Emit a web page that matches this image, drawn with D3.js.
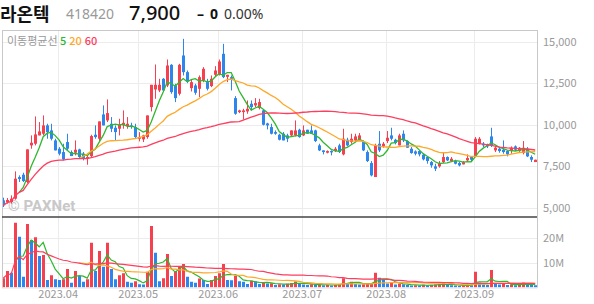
<!DOCTYPE html>
<html>
<head>
<meta charset="utf-8">
<script src="https://cdn.jsdelivr.net/npm/d3@7"></script>
<style>
  html, body { margin: 0; padding: 0; background: #fff; }
  svg { display: block; font-family: "Noto Sans CJK KR", "Noto Sans", sans-serif; }
</style>
</head>
<body>
<div id="chart"></div>
<script>
// ---- data ----
const stockName = "라온텍";
const stockCode = "418420";
const lastPrice = 7900;
const change = 0;
const changePct = "0.00%";

const open = [5460,5360,5360,5560,6860,7000,6560,8760,8860,9360,9460,9960,9660,9060,8560,8360,8960,8360,8320,8520,
  8260,7960,8120,9400,9160,10620,10260,10060,9820,9760,9960,9920,9960,9860,9160,9120,9260,11060,12120,12060,
  12760,12360,13600,12360,11860,14160,13160,12200,12360,12160,12660,12560,12320,13000,13000,14260,12880,12860,11600,10760,
  10760,10800,11260,11160,11000,10860,10080,9860,9560,9400,9460,9360,9360,9360,9700,9360,9700,9660,9660,8760,
  8460,8320,8420,8420,8760,8220,9100,8960,9060,9060,8960,8360,7700,6860,8860,8700,9020,9360,9100,8760,
  9460,9020,8560,8400,8420,8200,8060,7760,7500,7500,7760,8060,7820,7820,7700,7620,7860,8060,8100,8860,
  8860,8820,9300,8460,8560,8500,8420,8420,8700,8420,8300,8560,8060,7760];
const high = [5620,5600,5760,7200,6960,7120,8520,9360,10500,10160,10560,10060,10060,9160,8660,8860,9460,8460,9060,8560,
  8360,8160,9400,9960,10200,11160,11520,10460,9960,10360,10860,10460,10120,10060,9560,9400,10560,12400,13620,12760,
  12800,13920,13640,12460,13660,15160,13260,12720,12460,12960,13460,12760,12960,13520,13920,14860,13000,12960,11720,10900,
  10960,11460,11460,11600,11560,10920,10120,10060,9660,9460,9560,9460,9660,10260,9760,9960,9700,9960,9700,8860,
  8460,8460,8460,8660,8860,9760,9220,9460,9460,9500,9060,8460,7820,8860,9620,8960,9620,9820,9160,9460,
  9660,9060,8660,8460,8460,8260,8100,7820,7660,7820,8360,8100,8060,7900,7760,7820,8220,8120,9260,9260,
  8960,8860,9820,8760,8660,9060,8460,8700,8760,8660,9020,8660,8160,7900];
const low = [5060,5260,5260,5500,6560,6560,6500,8560,8760,9360,9360,9160,9060,8460,8160,7860,8460,8120,8160,7960,
  7860,7600,8060,9160,8960,9960,10160,9560,9060,9360,9760,9760,9760,9160,9000,8960,9160,10800,11560,11960,
  12000,12260,11860,11360,11760,12960,12500,12000,11800,11660,12560,12060,12260,12860,12960,12800,12560,12060,10600,10700,
  10320,10660,10860,11060,10920,9960,9720,9420,9400,9060,9060,8960,9260,9300,9220,9320,9460,9460,8960,8420,
  8220,8280,8160,8360,8300,8160,8700,8860,8960,9060,8420,7760,6900,6860,8360,8620,8900,9060,8820,8760,
  8960,8620,8260,8160,8100,7860,7660,7420,7220,7420,7700,7820,7760,7620,7500,7620,7820,7820,8060,8820,
  8660,8600,8660,8360,8320,8260,8100,8260,8420,8360,8220,8060,7760,7760];
const close = [5160,5480,5560,6760,6740,6620,8520,8920,9420,9600,9960,9560,9160,8460,8260,7920,8560,8120,8500,8060,
  7960,8060,9320,9260,10200,9960,10700,9760,9560,10000,10120,10060,9860,9260,9260,9360,10560,12400,12400,12400,
  12060,13560,11960,11600,13600,13160,12600,12560,11920,12860,13360,12160,12760,13260,13800,12860,13000,12760,10660,10860,
  10860,10960,11060,11300,11360,10000,9960,9460,9460,9100,9060,9160,9660,9660,9260,9660,9460,9460,9020,8460,
  8360,8420,8340,8560,8360,9160,8760,9160,9300,9360,8460,7820,6960,8760,8460,8860,9220,9160,8900,9360,
  9060,8620,8300,8260,8220,7920,7820,7560,7360,7700,8060,7860,7960,7660,7560,7760,8000,7900,9160,9160,
  8760,8700,8760,8620,8420,8360,8220,8620,8500,8620,8620,8100,7900,7900];
// volume in millions of shares
const volume = [3.7,6.6,5.9,25.9,20.3,4.3,25.4,19.0,20.1,12.6,13.0,3.0,4.9,3.3,3.0,3.3,7.4,1.9,6.6,4.6,
  2.3,3.3,17.9,6.6,14.6,8.3,17.9,7.4,3.3,4.9,5.7,2.3,1.9,2.5,1.3,1.2,6.3,24.6,13.9,2.5,
  3.7,13.4,4.6,6.6,8.3,9.4,4.3,2.3,1.9,3.6,3.0,1.4,3.0,4.6,5.7,9.4,3.0,2.9,4.6,2.5,
  2.3,1.4,2.7,2.5,1.4,1.9,1.6,1.7,1.0,1.3,1.2,1.5,1.8,2.4,1.5,1.2,1.0,1.3,1.1,1.2,
  0.9,1.0,0.8,1.1,1.3,3.7,1.5,2.3,1.4,1.2,1.3,1.6,1.8,5.9,3.9,3.0,1.6,1.9,1.2,1.5,
  1.3,1.0,0.8,0.9,0.8,1.1,0.9,1.0,1.2,1.4,1.7,1.0,0.9,0.8,0.7,0.9,1.1,0.9,6.3,1.9,
  1.2,1.0,7.0,1.6,1.2,1.4,1.0,1.2,0.9,1.1,2.0,1.3,1.0,0.9];

const monthLabels = ["2023.04","2023.05","2023.06","2023.07","2023.08","2023.09"];
const monthStart = [14, 34, 54, 75, 96, 118];   // index of first trading day
const priceTicks = [5000, 7500, 10000, 12500, 15000];
const volTicks = [10, 20];
const maPeriods = [5, 20, 60];
const maColors = ["#2eb82e", "#ffa726", "#ff3d5e"];

// moving average; the 60 line is an expanding mean until enough days exist
function movingAvg(arr, n, minCount) {
  return arr.map((d, i) => {
    const cnt = Math.min(n, i + 1);
    if (cnt < Math.min(n, minCount)) return null;
    return d3.mean(arr.slice(i + 1 - cnt, i + 1));
  });
}

const W = 594, H = 304;
const left = 2, right = 537;
const priceTop = 30, sepY = 217, volBottom = 287.5;
const red = "#f5404f", blue = "#2d86ee";

const svg = d3.select("#chart").append("svg").attr("width", W).attr("height", H);

// header
const hdr = svg.append("g");
hdr.append("text").attr("x", 0).attr("y", 21).text(stockName)
  .attr("font-size", 18).attr("font-weight", 700).attr("fill", "#111");
hdr.append("text").attr("x", 66).attr("y", 19).text(stockCode)
  .attr("font-size", 14).attr("fill", "#999").attr("font-family", "'Noto Sans', sans-serif");
hdr.append("text").attr("x", 129).attr("y", 20).text(d3.format(",")(lastPrice))
  .attr("font-size", 20).attr("font-weight", 500).attr("fill", "#111").attr("font-family", "'Noto Sans', sans-serif");
hdr.append("text").attr("x", 197).attr("y", 19).text("–")
  .attr("font-size", 14).attr("font-weight", 700).attr("fill", "#111").attr("font-family", "'Noto Sans', sans-serif");
hdr.append("text").attr("x", 210).attr("y", 19).text(change)
  .attr("font-size", 14).attr("font-weight", 700).attr("fill", "#111").attr("font-family", "'Noto Sans', sans-serif");
hdr.append("text").attr("x", 224).attr("y", 19).text(changePct)
  .attr("font-size", 14).attr("fill", "#333").attr("font-family", "'Noto Sans', sans-serif");

const x = d3.scaleLinear().domain([0, close.length - 1]).range([3.2, 535.2]);
const y = d3.scaleLinear().domain([5000, 15000]).range([208, 41.5]);
const yv = d3.scaleLinear().domain([0, 20]).range([volBottom, 237.5]);

svg.append("defs").append("clipPath").attr("id", "clipP")
  .append("rect").attr("x", left).attr("y", priceTop).attr("width", right - left).attr("height", sepY - priceTop);
svg.select("defs").append("clipPath").attr("id", "clipV")
  .append("rect").attr("x", left).attr("y", sepY).attr("width", right - left).attr("height", volBottom - sepY);

// grid
const grid = svg.append("g").attr("stroke", "#ececec").attr("stroke-width", 1);
grid.selectAll(".hp").data(priceTicks).join("line")
  .attr("x1", left).attr("x2", right)
  .attr("y1", d => Math.round(y(d)) + 0.5).attr("y2", d => Math.round(y(d)) + 0.5);
grid.selectAll(".hv").data(volTicks).join("line")
  .attr("x1", left).attr("x2", right)
  .attr("y1", d => Math.round(yv(d)) + 0.5).attr("y2", d => Math.round(yv(d)) + 0.5);
grid.selectAll(".vx").data(monthStart).join("line")
  .attr("x1", d => Math.round(x(d) - 1) + 0.5).attr("x2", d => Math.round(x(d) - 1) + 0.5)
  .attr("y1", priceTop).attr("y2", volBottom);

// watermark
svg.append("text").attr("x", 8).attr("y", 211).text("© PAXNet")
  .attr("font-size", 15).attr("font-weight", 700).attr("fill", "#c8c8c8").attr("font-family", "Roboto, sans-serif");

// legend
svg.append("text").attr("x", 7).attr("y", 45).text("이동평균선").attr("font-size", 11).attr("fill", "#999");
const leg = svg.append("text").attr("x", 60).attr("y", 45).attr("font-size", 11).attr("font-weight", 500);
maPeriods.forEach((p, i) => leg.append("tspan").attr("dx", i ? 3 : 0).attr("fill", maColors[i]).text(p));

// candles
const cg = svg.append("g").attr("clip-path", "url(#clipP)");
const idx = d3.range(close.length);
cg.selectAll(".wick").data(idx).join("line")
  .attr("x1", i => Math.round(x(i)) + 0.5).attr("x2", i => Math.round(x(i)) + 0.5)
  .attr("y1", i => y(high[i])).attr("y2", i => y(low[i]))
  .attr("stroke", i => close[i] >= open[i] ? red : blue).attr("stroke-width", 1);
cg.selectAll(".body").data(idx).join("rect")
  .attr("x", i => Math.round(x(i)) - 1).attr("width", 3)
  .attr("y", i => y(Math.max(open[i], close[i])))
  .attr("height", i => Math.max(1, Math.abs(y(open[i]) - y(close[i]))))
  .attr("fill", i => close[i] >= open[i] ? red : blue);

// price MAs
const line = d3.line().defined(d => d[1] != null).x(d => x(d[0])).y(d => d[1]);
maPeriods.forEach((p, k) => {
  const ma = movingAvg(close, p, p === 60 ? 1 : p);
  cg.append("path").datum(ma.map((v, i) => [i, v == null ? null : y(v)]))
    .attr("d", line).attr("fill", "none").attr("stroke", maColors[k]).attr("stroke-width", 1.3);
});

// volume
const vg = svg.append("g").attr("clip-path", "url(#clipV)");
vg.selectAll(".vol").data(idx).join("rect")
  .attr("x", i => Math.round(x(i)) - 1).attr("width", 3)
  .attr("y", i => yv(volume[i])).attr("height", i => volBottom - yv(volume[i]))
  .attr("fill", i => (i === 0 || volume[i] >= volume[i - 1]) ? red : blue);
maPeriods.forEach((p, k) => {
  const ma = movingAvg(volume, p, p === 60 ? 1 : p === 5 ? 4 : p);
  vg.append("path").datum(ma.map((v, i) => [i, v == null ? null : yv(v)]))
    .attr("d", line).attr("fill", "none").attr("stroke", maColors[k]).attr("stroke-width", 1.2);
});

// frame
svg.append("line").attr("x1", left).attr("x2", right).attr("y1", priceTop + 0.5).attr("y2", priceTop + 0.5)
  .attr("stroke", "#c8c8c8");
svg.append("line").attr("x1", left + 0.5).attr("x2", left + 0.5).attr("y1", priceTop).attr("y2", volBottom)
  .attr("stroke", "#c8c8c8");
svg.append("line").attr("x1", right + 0.5).attr("x2", right + 0.5).attr("y1", priceTop).attr("y2", volBottom)
  .attr("stroke", "#c8c8c8");
svg.append("line").attr("x1", left).attr("x2", right).attr("y1", sepY).attr("y2", sepY)
  .attr("stroke", "#444").attr("stroke-width", 1.3);
svg.append("line").attr("x1", left).attr("x2", right).attr("y1", volBottom + 0.5).attr("y2", volBottom + 0.5)
  .attr("stroke", "#e0e0e0");

// axes labels
const ax = svg.append("g").attr("font-size", 11).attr("fill", "#999");
ax.selectAll(".pl").data(priceTicks).join("text")
  .attr("x", 543).attr("y", d => y(d) + 4).text(d => d3.format(",")(d));
ax.selectAll(".vl").data(volTicks).join("text")
  .attr("x", 543).attr("y", d => yv(d) + 4).text(d => d + "M");
ax.selectAll(".ml").data(monthStart).join("text")
  .attr("x", (d, i) => x(d) - 1).attr("y", 298).attr("text-anchor", "middle")
  .text((d, i) => monthLabels[i]);
</script>
</body>
</html>
